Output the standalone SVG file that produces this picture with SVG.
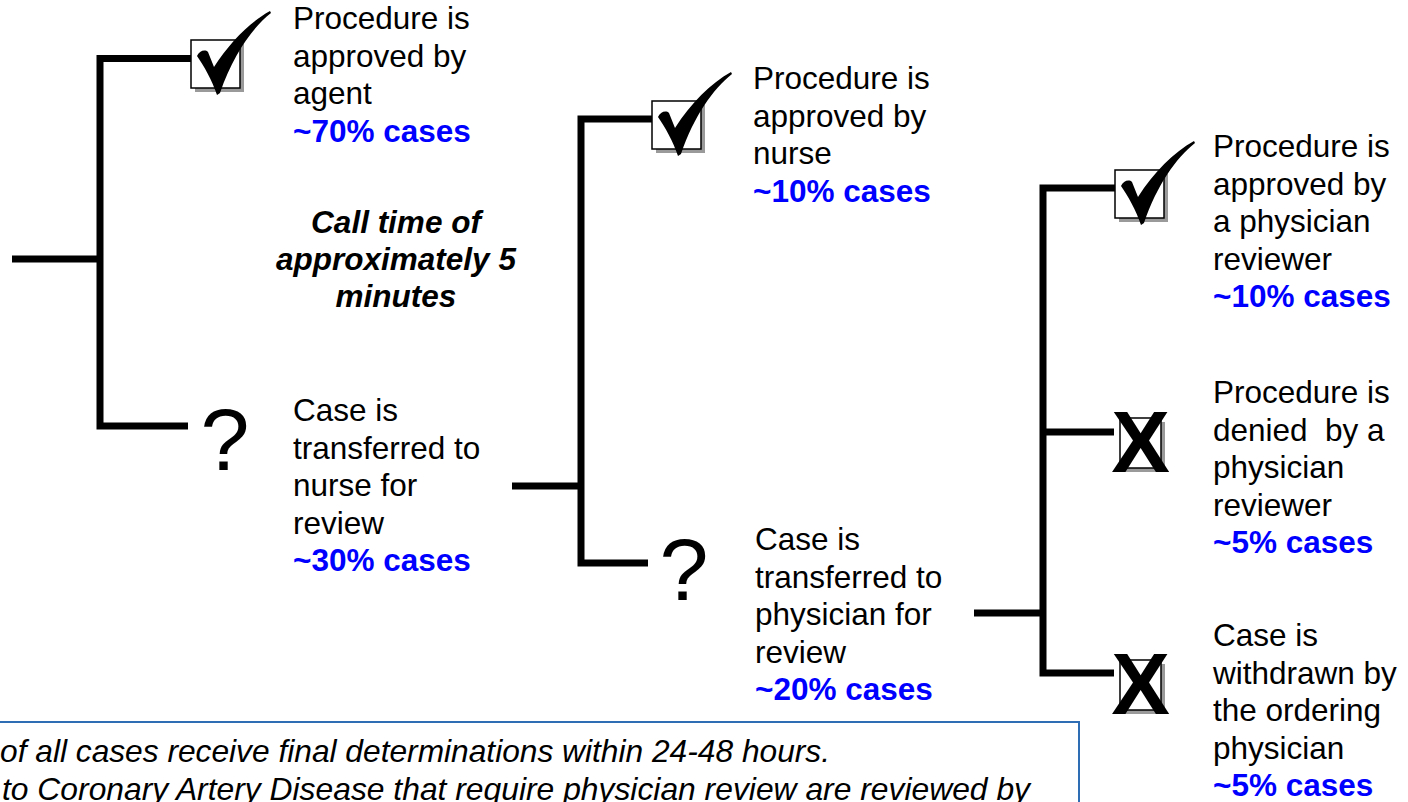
<svg xmlns="http://www.w3.org/2000/svg" width="1408" height="802" viewBox="0 0 1408 802">
<defs>
<style>
.ln{stroke:#000;stroke-width:7;fill:none;stroke-linejoin:miter}
.t{font-family:"Liberation Sans",Arial,Helvetica,sans-serif;font-size:31.5px;fill:#000}
.b{font-weight:bold;fill:#0000FF}
.ci{font-weight:bold;font-style:italic}
.it{font-style:italic}
.q{font-family:"Liberation Sans",Arial,Helvetica,sans-serif;font-size:88px;fill:#000}
.x{font-family:"Liberation Sans",Arial,Helvetica,sans-serif;font-size:88px;font-weight:bold;fill:#000}
.bx{fill:#fff;stroke:#000;stroke-width:1.5}
.sh{fill:#9a9a9a}
.note{fill:#fff;stroke:#2E6DB4;stroke-width:2}
</style>
<g id="checkbox">
<rect class="sh" x="4" y="4" width="49" height="48"/>
<rect class="bx" x="0" y="0" width="49" height="48"/>
<path d="M6,16 C8,11 14,9 17,12 L23,27 C39,2 59,-18 79,-29 L80,-27 C61,-12 42,15 29,53 L26,55 C21,40 13,26 6,16 Z" fill="#000"/>
</g>
<g id="xbox">
<rect class="sh" x="4" y="4" width="41" height="50"/>
<rect class="bx" x="0" y="0" width="41" height="50"/>
<text class="x" x="20.5" y="54" text-anchor="middle">X</text>
</g>
</defs>
<rect width="1408" height="802" fill="#fff"/>

<g id="connectors">
<path class="ln" d="M191,58.5 H100 V426 H188"/>
<path class="ln" d="M12,259 H100"/>
<path class="ln" d="M652,119 H581 V563 H648"/>
<path class="ln" d="M512,486 H581"/>
<path class="ln" d="M1115,188 H1043 V673 H1114"/>
<path class="ln" d="M974,613 H1043"/>
<path class="ln" d="M1043,432 H1114"/>
</g>

<g id="n-agent">
<use href="#checkbox" x="191" y="40"/>
<text class="t" x="293"><tspan x="293" y="29">Procedure is</tspan><tspan x="293" y="66.5">approved by</tspan><tspan x="293" y="104">agent</tspan><tspan class="b" x="293" y="141.5">~70% cases</tspan></text>
</g>

<g id="n-nurse-transfer">
<text class="q" x="225" y="470" text-anchor="middle">?</text>
<text class="t"><tspan x="293" y="421">Case is</tspan><tspan x="293" y="458.5">transferred to</tspan><tspan x="293" y="496">nurse for</tspan><tspan x="293" y="533.5">review</tspan><tspan class="b" x="293" y="571">~30% cases</tspan></text>
</g>

<g id="call-time">
<text class="t ci" text-anchor="middle"><tspan x="396" y="233">Call time of</tspan><tspan x="396" y="270">approximately 5</tspan><tspan x="396" y="307">minutes</tspan></text>
</g>

<g id="n-nurse-approve">
<use href="#checkbox" x="652" y="101"/>
<text class="t"><tspan x="753" y="89">Procedure is</tspan><tspan x="753" y="126.5">approved by</tspan><tspan x="753" y="164">nurse</tspan><tspan class="b" x="753" y="201.5">~10% cases</tspan></text>
</g>

<g id="n-phys-transfer">
<text class="q" x="684" y="600" text-anchor="middle">?</text>
<text class="t"><tspan x="755" y="550">Case is</tspan><tspan x="755" y="587.5">transferred to</tspan><tspan x="755" y="625">physician for</tspan><tspan x="755" y="662.5">review</tspan><tspan class="b" x="755" y="700">~20% cases</tspan></text>
</g>

<g id="n-phys-approve">
<use href="#checkbox" x="1115" y="170"/>
<text class="t"><tspan x="1213" y="157">Procedure is</tspan><tspan x="1213" y="194.5">approved by</tspan><tspan x="1213" y="232">a physician</tspan><tspan x="1213" y="269.5">reviewer</tspan><tspan class="b" x="1213" y="307">~10% cases</tspan></text>
</g>

<g id="n-denied">
<use href="#xbox" x="1120" y="418"/>
<text class="t" xml:space="preserve" style="white-space:pre"><tspan x="1213" y="403">Procedure is</tspan><tspan x="1213" y="440.5">denied  by a</tspan><tspan x="1213" y="478">physician</tspan><tspan x="1213" y="515.5">reviewer</tspan><tspan class="b" x="1213" y="553">~5% cases</tspan></text>
</g>

<g id="n-withdrawn">
<use href="#xbox" x="1120" y="660"/>
<text class="t"><tspan x="1213" y="646">Case is</tspan><tspan x="1213" y="683.5">withdrawn by</tspan><tspan x="1213" y="721">the ordering</tspan><tspan x="1213" y="758.5">physician</tspan><tspan class="b" x="1213" y="796">~5% cases</tspan></text>
</g>

<g id="note">
<rect class="note" x="-10" y="722" width="1089" height="120"/>
<text class="t it" x="0" y="762" textLength="830" lengthAdjust="spacingAndGlyphs">of all cases receive final determinations within 24-48 hours.</text>
<text class="t it" x="2" y="800" textLength="1028" lengthAdjust="spacingAndGlyphs">to Coronary Artery Disease that require physician review are reviewed by</text>
</g>
</svg>
